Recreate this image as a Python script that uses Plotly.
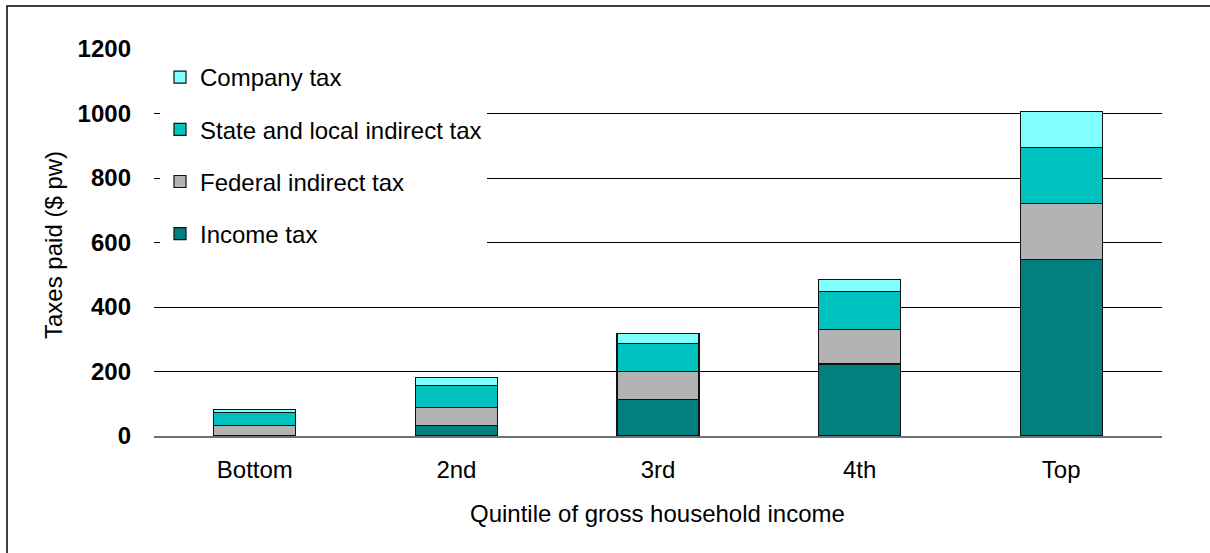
import plotly.graph_objects as go

# Quintiles of gross household income and taxes paid ($ per week)
quintiles = ["Bottom", "2nd", "3rd", "4th", "Top"]
income_tax = [0, 33, 114, 223, 548]
federal_indirect = [32, 56, 85, 108, 174]
state_local_indirect = [42, 68, 88, 118, 173]
company_tax = [8, 25, 31, 37, 110]

# (name, values, colour, legend rank: top of legend first)
series = [
    ("Income tax", income_tax, "#008080", 4),
    ("Federal indirect tax", federal_indirect, "#B3B3B3", 3),
    ("State and local indirect tax", state_local_indirect, "#00C3BF", 2),
    ("Company tax", company_tax, "#80FFFF", 1),
]

FONT = "Liberation Sans, Arial, sans-serif"

fig = go.Figure()
for i, (name, vals, col, rank) in enumerate(series):
    fig.add_trace(go.Bar(
        x=quintiles, y=vals, name=name, legendgroup=str(i), legendrank=rank,
        marker=dict(color=col, line=dict(color="#111111", width=1.2)),
    ))

W, H = 1210, 553
L, R, T, B = 154, 48, 49, 117
pw, ph = W - L - R, H - T - B

def px_x(p):
    return (p - L) / pw

def px_y(p):
    return (H - B - p) / ph

fig.update_layout(
    width=W, height=H,
    margin=dict(l=L, r=R, t=T, b=B),
    paper_bgcolor="white", plot_bgcolor="white",
    barmode="stack", bargap=0.593,
    font=dict(family=FONT, size=24, color="black"),
    showlegend=True,
    legend=dict(
        x=px_x(160), y=px_y(55), xanchor="left", yanchor="top",
        bgcolor="white", borderwidth=0,
        traceorder="grouped", tracegroupgap=18,
        font=dict(family=FONT, size=24, color="black"),
        itemclick=False,
    ),
    xaxis=dict(
        showgrid=False, showline=True, linecolor="#707070", linewidth=2,
        ticks="", ticklabelstandoff=11,
        tickfont=dict(family=FONT, size=24, color="black"),
    ),
    yaxis=dict(
        range=[0, 1200], tickvals=[0, 200, 400, 600, 800, 1000, 1200],
        showgrid=True, gridcolor="black", gridwidth=1,
        zeroline=False, showline=False, ticks="",
        ticklabelstandoff=22,
        tickfont=dict(family=FONT, size=24, color="black", weight="bold"),
    ),
)

# Axis titles
fig.add_annotation(
    text="Taxes paid ($ pw)", textangle=-90, showarrow=False,
    xref="paper", yref="paper", x=px_x(53), y=px_y(245),
    xanchor="center", yanchor="middle",
    font=dict(family=FONT, size=24, color="black"),
)
fig.add_annotation(
    text="Quintile of gross household income", showarrow=False,
    xref="paper", yref="paper", x=px_x(657), y=px_y(513),
    xanchor="center", yanchor="middle",
    font=dict(family=FONT, size=24, color="black"),
)

# Chart frame
fig.add_shape(
    type="rect", xref="paper", yref="paper",
    x0=px_x(7), y0=px_y(600), x1=px_x(1260), y1=px_y(6),
    line=dict(color="black", width=1.5), fillcolor="rgba(0,0,0,0)",
    layer="above",
)

fig.write_html("out.html")
